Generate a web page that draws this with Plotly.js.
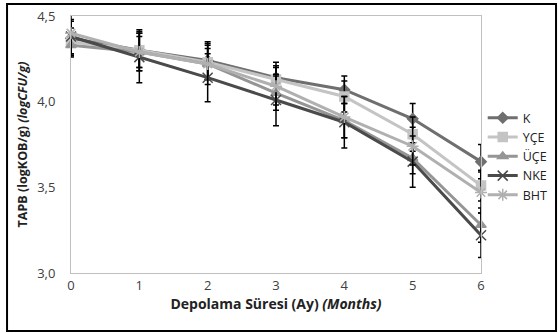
<!DOCTYPE html>
<html><head><meta charset="utf-8">
<script src="https://cdn.plot.ly/plotly-3.0.1.min.js"></script>
<style>html,body{margin:0;padding:0;background:#fff;}#c{width:560px;height:333px;}</style>
</head><body><div id="c"></div>
<script>
const months = [0, 1, 2, 3, 4, 5, 6];
const seriesNames = ['K', 'YÇE', 'ÜÇE', 'NKE', 'BHT'];
const K   = [4.37, 4.30, 4.24, 4.14, 4.07, 3.90, 3.65];
const YCE = [4.35, 4.30, 4.23, 4.13, 4.03, 3.81, 3.51];
const UCE = [4.33, 4.29, 4.22, 4.05, 3.89, 3.67, 3.28];
const NKE = [4.38, 4.26, 4.14, 4.01, 3.88, 3.65, 3.22];
const BHT = [4.40, 4.29, 4.22, 4.09, 3.91, 3.74, 3.47];
const K_err   = [0.10, 0.12, 0.11, 0.09, 0.08, 0.09, 0.10];
const YCE_err = [0.08, 0.10, 0.10, 0.08, 0.09, 0.10, 0.09];
const UCE_err = [0.07, 0.09, 0.09, 0.10, 0.10, 0.09, 0.10];
const NKE_err = [0.10, 0.15, 0.14, 0.15, 0.15, 0.15, 0.13];
const BHT_err = [0.12, 0.11, 0.12, 0.11, 0.12, 0.11, 0.12];
const yTicks = [3.0, 3.5, 4.0, 4.5];

const vals = [K, YCE, UCE, NKE, BHT];
const errs = [K_err, YCE_err, UCE_err, NKE_err, BHT_err];
const colors = ['#6f6f6f', '#c4c4c4', '#959595', '#4a4a4a', '#b0b0b0'];
const symbols = ['diamond', 'square', 'triangle-up', 'x-thin-open', 'asterisk-open'];
const sizes = [8, 9, 9, 10, 10];

const traces = seriesNames.map((n, i) => ({
  x: months, y: vals[i], name: n, type: 'scatter', mode: 'lines+markers',
  line: {color: colors[i], width: 3},
  marker: {symbol: symbols[i], size: sizes[i], color: colors[i], line: {color: colors[i], width: 1.5}},
  error_y: {type: 'data', array: errs[i], visible: true, color: '#000', thickness: 1.5, width: 3},
  cliponaxis: false
}));

const font = 'Open Sans, Liberation Sans, sans-serif';
const layout = {
  width: 560, height: 333,
  margin: {l: 71, r: 79, t: 16, b: 60},
  paper_bgcolor: '#fff', plot_bgcolor: '#fff',
  separators: ',.',
  font: {family: font, size: 12, color: '#404040'},
  showlegend: true,
  legend: {xref: 'container', yref: 'container', x: 0.862, y: 0.69, xanchor: 'left', yanchor: 'top',
    bgcolor: 'rgba(0,0,0,0)', font: {family: font, size: 12.5, color: '#222'}, tracegroupgap: 0, itemwidth: 30},
  xaxis: {range: [0, 6], tickvals: months, ticks: '', showgrid: false, zeroline: false,
    showline: true, linecolor: '#c0c0c0', linewidth: 1, mirror: true,
    tickfont: {family: font, size: 13, color: '#404040'},
    title: {text: '<b>Depolama Süresi (Ay)</b> <b><i>(Months)</i></b>', font: {family: font, size: 14, color: '#222'}, standoff: 2}},
  yaxis: {range: [3.0, 4.5], tickvals: yTicks, tickformat: '.1f', ticks: '', showgrid: false, zeroline: false,
    showline: true, linecolor: '#c0c0c0', linewidth: 1, mirror: true, ticklabelstandoff: 12,
    tickfont: {family: font, size: 13, color: '#404040'},
    title: {text: '<b>TAPB (logKOB/g)</b> <b><i>(logCFU/g)</i></b>', font: {family: font, size: 12.5, color: '#222'}, standoff: 6}},
  shapes: [{type: 'rect', xref: 'paper', yref: 'paper', x0: -0.156, x1: 1.183, y0: -0.226, y1: 1.047,
    line: {color: '#000', width: 2}, fillcolor: 'rgba(0,0,0,0)'}]
};
Plotly.newPlot('c', traces, layout, {displayModeBar: false, staticPlot: true});
</script></body></html>
